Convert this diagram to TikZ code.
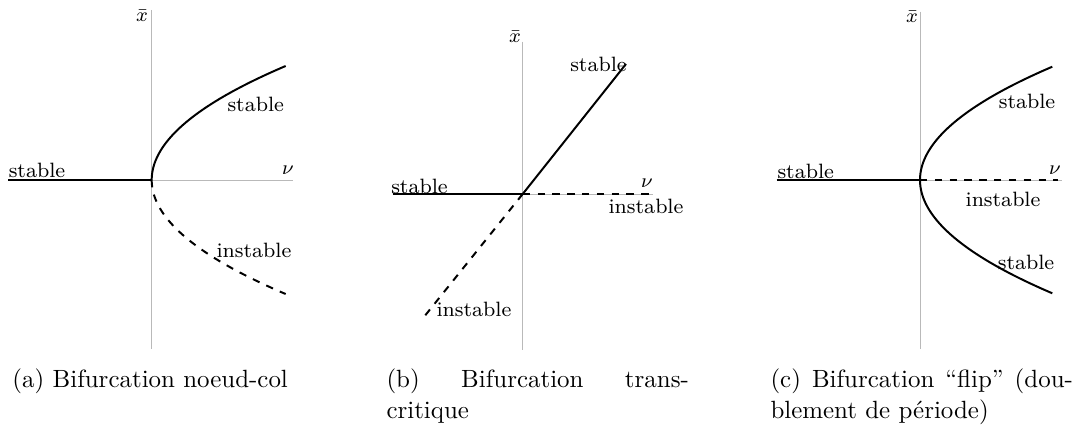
\documentclass[tikz,border=0pt]{standalone}
\usetikzlibrary{positioning}

\newcommand{\capwd}{122.5pt}

\begin{document}
\begin{tikzpicture}[
  x=0.01423cm, y=-0.01423cm,
  axis/.style={gray!55, line width=0.4pt},
  branch/.style={line width=0.8pt},
  unstable/.style={branch, dashed},
  lbl/.style={font=\fontsize{8.4}{10}\selectfont, inner sep=0pt},
  capt/.style={anchor=base west, inner sep=0pt, text width=\capwd, align=left,
    font=\fontsize{10.1}{12.6}\selectfont},
]
  \useasboundingbox (0,0) rectangle (1075,429);

  % (a) noeud-col
  \coordinate (oa) at (151.7,180);
  \coordinate (na) at (151.7,10);
  \coordinate (sa) at (151.7,349);
  \coordinate (wa) at (8.3,180);
  \coordinate (ea) at (292.7,180);
  \draw[axis] (na) -- (sa);
  \draw[axis] (wa) -- (ea);
  \draw[branch] (wa) -- (oa);
  \draw[branch] plot[domain=0:114, samples=60, smooth] ({151.7+(\x/9.85)^2}, {180-\x});
  \draw[unstable] plot[domain=0:114, samples=60, smooth] ({151.7+(\x/9.85)^2}, {180+\x});
  \node[lbl] (xa) at (142,16) {$\bar{x}$};
  \node[lbl] (nua) at (288,170) {$\nu$};
  \node[lbl] (sla) at (37,170) {stable};
  \node[lbl] (sua) at (255.7,104) {stable};
  \node[lbl] (ia) at (254,250) {instable};

  % (b) transcritique
  \coordinate (ob) at (522.7,194);
  \coordinate (nb) at (522.7,41.7);
  \coordinate (sb) at (522.7,350);
  \coordinate (wb) at (392.7,194);
  \coordinate (eb) at (652.7,194);
  \coordinate (db) at (650,194);
  \coordinate (tb) at (626,64);
  \coordinate (bb) at (420.7,321);
  \draw[axis] (nb) -- (sb);
  \draw[axis] (wb) -- (eb);
  \draw[branch] (wb) -- (ob);
  \draw[branch] (ob) -- (tb);
  \draw[unstable] (ob) -- (bb);
  \draw[unstable] (ob) -- (db);
  \node[lbl] (xb) at (515,37) {$\bar{x}$};
  \node[lbl] (nub) at (647,183) {$\nu$};
  \node[lbl] (slb) at (419.5,186) {stable};
  \node[lbl] (stb) at (598.5,64) {stable};
  \node[lbl] (irb) at (646,206) {instable};
  \node[lbl] (ibb) at (474,309) {instable};

  % (c) flip
  \coordinate (oc) at (920,180);
  \coordinate (nc) at (920,11.7);
  \coordinate (sc) at (920,349);
  \coordinate (wc) at (776.7,180);
  \coordinate (ec) at (1061.7,180);
  \coordinate (dc) at (1058,180);
  \draw[axis] (nc) -- (sc);
  \draw[axis] (wc) -- (ec);
  \draw[branch] (wc) -- (oc);
  \draw[unstable] (oc) -- (dc);
  \draw[branch] plot[domain=0:113.3, samples=60, smooth] ({920+(\x/9.85)^2}, {180-\x});
  \draw[branch] plot[domain=0:113.3, samples=60, smooth] ({920+(\x/9.85)^2}, {180+\x});
  \node[lbl] (xc) at (912,17) {$\bar{x}$};
  \node[lbl] (nuc) at (1055,170) {$\nu$};
  \node[lbl] (slc) at (805.7,171) {stable};
  \node[lbl] (suc) at (1027,101) {stable};
  \node[lbl] (ic) at (1003,199) {instable};
  \node[lbl] (sdc) at (1026,262) {stable};

  % legendes
  \node[capt] (ca) at (12,387) {(a) Bifurcation noeud-col};
  \node[capt] (cb) at (386,387) {\makebox[\capwd][l]{(b)\hfill Bifurcation\hfill trans-}\\critique};
  \node[capt] (cc) at (770,387) {\makebox[\capwd][l]{(c)\hfill Bifurcation\hfill “flip”\hfill (dou-}\\blement de période)};
\end{tikzpicture}
\end{document}
